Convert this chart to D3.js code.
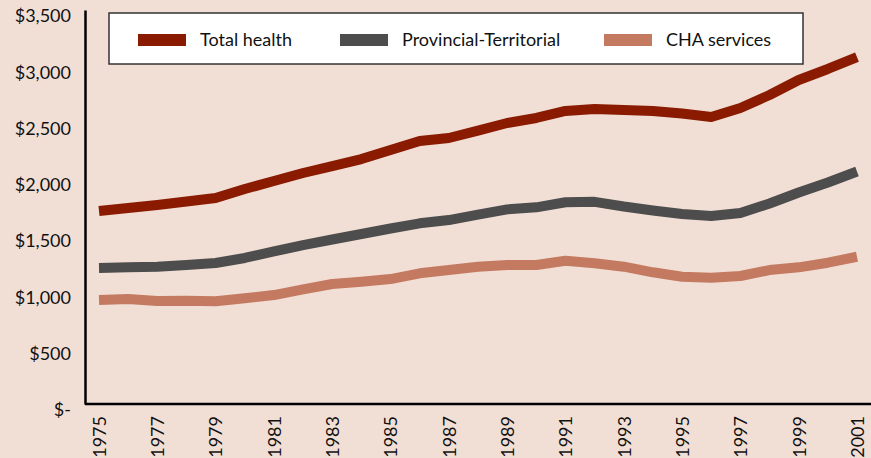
<!DOCTYPE html>
<html>
<head>
<meta charset="utf-8">
<script src="https://cdn.jsdelivr.net/npm/d3@7"></script>
<style>
  body { margin: 0; background: #f1dfd6; }
  svg { display: block; font-family: Lato, "Open Sans", sans-serif; }
</style>
</head>
<body>
<div id="chart"></div>
<script>
// data (per capita dollars)
const years = d3.range(1975, 2002);
const totalHealth = [1714, 1741, 1768, 1799, 1830, 1910, 1981, 2052, 2114, 2176, 2256, 2336, 2363,
  2429, 2496, 2541, 2603, 2620, 2612, 2603, 2581, 2549, 2629, 2745, 2878, 2976, 3082];
const provTerr = [1208, 1214, 1220, 1235, 1253, 1297, 1355, 1412, 1461, 1510, 1559, 1605, 1634,
  1682, 1729, 1747, 1792, 1796, 1754, 1719, 1688, 1670, 1697, 1781, 1879, 1968, 2065];
const chaServices = [924, 933, 915, 918, 912, 939, 968, 1019, 1066, 1086, 1110, 1161, 1190,
  1220, 1235, 1235, 1273, 1250, 1220, 1170, 1131, 1122, 1137, 1190, 1214, 1255, 1308];
const yTicks = [0, 500, 1000, 1500, 2000, 2500, 3000, 3500];
const xTicks = d3.range(1975, 2002, 2);

const series = [
  {name: "Total health", values: totalHealth, color: "#8a1b00"},
  {name: "Provincial-Territorial", values: provTerr, color: "#4d4d4d"},
  {name: "CHA services", values: chaServices, color: "#c47a60"}
];

const width = 871, height = 458;
const svg = d3.select("#chart").append("svg")
  .attr("width", width)
  .attr("height", height);

svg.append("rect").attr("width", width).attr("height", height).attr("fill", "#f1dfd6");

const x = d3.scaleLinear().domain([1975, 2001]).range([99, 857]);
const y = d3.scaleLinear().domain([0, 3500]).range([404, 10]);

// y axis
const yAxis = svg.append("g")
  .attr("transform", "translate(85,0)")
  .call(d3.axisLeft(y).tickValues(yTicks).tickSize(0).tickPadding(14)
    .tickFormat(d => d === 0 ? "$-" : "$" + d3.format(",")(d)));
yAxis.select(".domain").attr("stroke", "#000").attr("stroke-width", 2.5);
yAxis.selectAll("text")
  .attr("dy", "0.32em")
  .attr("transform", "translate(0,6)")
  .attr("font-size", 18)
  .attr("font-family", "Lato, sans-serif")
  .attr("fill", "#111");

// x axis
const xAxis = svg.append("g")
  .attr("transform", "translate(0,404)")
  .call(d3.axisBottom(x).tickValues(xTicks).tickSize(0).tickFormat(d => d));
xAxis.select(".domain").attr("d", "M85,0H871").attr("stroke", "#000").attr("stroke-width", 2.5);
xAxis.selectAll("text")
  .attr("font-size", 18)
  .attr("font-family", "Lato, sans-serif")
  .attr("fill", "#111")
  .attr("text-anchor", "end")
  .attr("dy", "0.35em")
  .attr("transform", "translate(0,12) rotate(-90)")
  .attr("y", 0)
  .attr("x", 0);

// lines
const line = d3.line()
  .x((d, i) => x(years[i]))
  .y(d => y(d));

svg.append("g").selectAll("path")
  .data(series)
  .join("path")
  .attr("d", d => line(d.values))
  .attr("fill", "none")
  .attr("stroke", d => d.color)
  .attr("stroke-width", 10)
  .attr("stroke-linejoin", "round");

// legend
const legend = svg.append("g");
legend.append("rect")
  .attr("x", 109).attr("y", 13)
  .attr("width", 694).attr("height", 51)
  .attr("fill", "#fff")
  .attr("stroke", "#333")
  .attr("stroke-width", 1.5);

const legendX = [138, 340, 604];
const items = legend.selectAll("g.item")
  .data(series)
  .join("g")
  .attr("class", "item")
  .attr("transform", (d, i) => `translate(${legendX[i]},40)`);
items.append("rect")
  .attr("x", 0).attr("y", -6)
  .attr("width", 48).attr("height", 12)
  .attr("fill", d => d.color);
items.append("text")
  .attr("x", 62)
  .attr("dy", "0.35em")
  .attr("font-size", 18)
  .attr("fill", "#111")
  .text(d => d.name);
</script>
</body>
</html>
